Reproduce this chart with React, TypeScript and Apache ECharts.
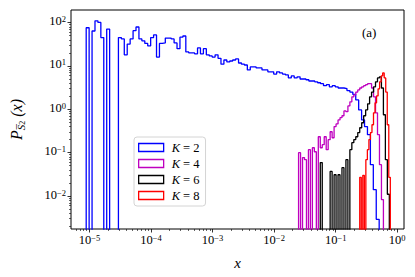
import React, { useEffect, useRef } from 'react';
import * as echarts from 'echarts';

// Histogram bin ranges (x, log-spaced bins) and densities
const blueRange = [8.85e-6, 0.509];
const blueValues = [
  76, 0, 64, 110, 101, 45, 0, 71, 0, 0,
  0, 45, 42, 18, 32, 42, 65, 79, 42, 38,
  33, 29, 45, 52, 16, 33, 34, 44, 44, 42,
  34, 25, 46, 49, 21, 20, 20, 19, 26, 19,
  25, 18, 17, 16, 18, 15, 11, 13.7, 12.4, 13,
  13.7, 14.5, 11.7, 11, 10.5, 8.1, 9.5, 9.5, 9.0, 9.0,
  8.1, 8.1, 7.3, 7.3, 6.5, 7.3, 6.9, 6.5, 6.2, 5.3,
  5.9, 5.3, 5.6, 5.0, 5.0, 4.8, 4.5, 4.5, 4.3, 4.1,
  3.9, 3.5, 3.7, 3.3, 3.5, 3.3, 3.1, 3.1, 3.0, 2.7,
  2.5, 2.2, 1.65, 0.97, 0.57, 0.40, 0.26, 0.053, 0.014, 0.0029,
];
const magentaRange = [0.02496, 0.5966];
const magentaValues = [
  0.10, 0, 0.077, 0.069, 0, 0.117, 0, 0.13, 0.105, 0,
  0.233, 0.13, 0.153, 0.233, 0.117, 0.199, 0.304, 0.221, 0.40, 0.46,
  0.57, 0.64, 0.71, 0.92, 0.88, 1.2, 1.49, 1.94, 2.15, 2.5,
  2.8, 3.1, 3.3, 3.5, 3.7, 3.9, 3.9, 3.1, 1.94, 0.83,
  0.26, 0.053, 0.0083,
];
const blackRange = [0.0562, 0.744];
const blackValues = [
  0.059, 0, 0, 0, 0, 0.037, 0, 0.031, 0, 0.031,
  0, 0.045, 0, 0.069, 0, 0.117, 0.17, 0.2, 0.233, 0.29,
  0.376, 0.49, 0.71, 0.97, 1.34, 1.94, 2.5, 3.3, 4.3, 5.3,
  5.6, 3.1, 0.75, 0.069, 0.011,
];
const redRange = [0.246, 0.772];
const redValues = [
  0.027, 0, 0.030, 0, 0.069, 0.117, 0.2, 0.29, 0.44, 0.83,
  1.41, 2.04, 2.96, 4.3, 5.9, 6.9, 5.3, 2.5, 0.44, 0.027,
];

const seriesNames = ['K = 2', 'K = 4', 'K = 6', 'K = 8'];
const seriesColors = ['#0000ff', '#bf00bf', '#000000', '#ff0000'];
const xTickExps = [-5, -4, -3, -2, -1, 0];
const yTickExps = [-2, -1, 0, 1, 2];

const X_MIN = -5.3;
const X_MAX = 0.11;
const Y_MIN = -2.76;
const Y_MAX = 2.29;
const FLOOR = -10;
const FONT = '"Liberation Serif", "DejaVu Serif", serif';

function stepData(range: number[], values: number[]) {
  const lo = Math.log10(range[0]);
  const hi = Math.log10(range[1]);
  const w = (hi - lo) / values.length;
  const pts: number[][] = [[lo, FLOOR]];
  values.forEach((v, i) => {
    const y = v > 0 ? Math.log10(v) : FLOOR;
    pts.push([lo + i * w, y], [lo + (i + 1) * w, y]);
  });
  pts.push([hi, FLOOR]);
  return pts;
}

function minorTicks(min: number, max: number) {
  const out: number[] = [];
  for (let n = Math.floor(min); n <= Math.ceil(max); n++) {
    for (let k = 2; k <= 9; k++) {
      const v = n + Math.log10(k);
      if (v >= min && v <= max) out.push(v);
    }
  }
  return out;
}

const supLabel = (v: number) => {
  const e = Math.round(v);
  return `{b|10}{s|${e < 0 ? '−' : ''}${Math.abs(e)}}`;
};

const labelRich = {
  b: { fontFamily: FONT, fontSize: 12.5, lineHeight: 16, color: '#000', verticalAlign: 'top' },
  s: { fontFamily: FONT, fontSize: 8.5, lineHeight: 7, color: '#000', verticalAlign: 'top' },
};

export default function App() {
  const ref = useRef<HTMLDivElement>(null);
  useEffect(() => {
    if (!ref.current) return;
    const chart = echarts.init(ref.current, undefined, { renderer: 'svg' });
    const all = [
      [blueRange, blueValues],
      [magentaRange, magentaValues],
      [blackRange, blackValues],
      [redRange, redValues],
    ] as [number[], number[]][];
    const series = all.map(([r, v], i) => ({
      name: seriesNames[i],
      type: 'line',
      data: stepData(r, v),
      showSymbol: false,
      symbol: 'none',
      clip: true,
      silent: true,
      color: seriesColors[i],
      itemStyle: { color: seriesColors[i] },
      lineStyle: { color: seriesColors[i], width: 1.3 },
      xAxisIndex: 0,
      yAxisIndex: 0,
    }));
    const xMinor = minorTicks(X_MIN, X_MAX);
    const yMinor = minorTicks(Y_MIN, Y_MAX);
    chart.setOption({
      animation: false,
      backgroundColor: '#fff',
      grid: {
        left: 66, right: 11, top: 10, bottom: 48,
        show: true, borderColor: '#000', borderWidth: 1, backgroundColor: 'transparent',
      },
      xAxis: [
        {
          type: 'value', min: X_MIN, max: X_MAX, position: 'bottom',
          name: '{i|x}', nameLocation: 'middle', nameGap: 26,
          nameTextStyle: { rich: { i: { fontFamily: FONT, fontStyle: 'italic', fontSize: 15, color: '#000' } } },
          axisLine: { show: false, onZero: false },
          splitLine: { show: false },
          axisTick: { show: true, customValues: xTickExps, length: 3.5, lineStyle: { color: '#000', width: 0.8 } },
          axisLabel: { customValues: xTickExps, formatter: supLabel, margin: 4, rich: labelRich },
        },
        {
          type: 'value', min: X_MIN, max: X_MAX, position: 'bottom',
          axisLine: { show: false, onZero: false }, splitLine: { show: false },
          axisLabel: { show: false },
          axisTick: { show: true, customValues: xMinor, length: 2, lineStyle: { color: '#000', width: 0.6 } },
        },
      ],
      yAxis: [
        {
          type: 'value', min: Y_MIN, max: Y_MAX, position: 'left',
          name: '{p|P}{s|S̅}{t|2}{p| (}{i|x}{p|)}', nameLocation: 'middle', nameGap: 45, nameRotate: 90,
          nameTextStyle: {
            rich: {
              p: { fontFamily: FONT, fontSize: 16, lineHeight: 20, color: '#000', fontStyle: 'italic' },
              i: { fontFamily: FONT, fontSize: 16, lineHeight: 20, color: '#000', fontStyle: 'italic' },
              s: { fontFamily: FONT, fontSize: 11, lineHeight: 12, color: '#000', fontStyle: 'italic', verticalAlign: 'bottom' },
              t: { fontFamily: FONT, fontSize: 8, lineHeight: 7, color: '#000', verticalAlign: 'bottom' },
            },
          },
          axisLine: { show: false, onZero: false },
          splitLine: { show: false },
          axisTick: { show: true, customValues: yTickExps, length: 3.5, lineStyle: { color: '#000', width: 0.8 } },
          axisLabel: { customValues: yTickExps, formatter: supLabel, margin: 5, rich: labelRich },
        },
        {
          type: 'value', min: Y_MIN, max: Y_MAX, position: 'left',
          axisLine: { show: false, onZero: false }, splitLine: { show: false },
          axisLabel: { show: false },
          axisTick: { show: true, customValues: yMinor, length: 2, lineStyle: { color: '#000', width: 0.6 } },
        },
      ],
      legend: {
        data: seriesNames.map((name, i) => ({
          name,
          itemStyle: { color: 'rgba(255,255,255,0)', borderColor: seriesColors[i], borderWidth: 1.3, opacity: 1 },
        })),
        orient: 'vertical',
        left: 134,
        top: 137,
        icon: 'rect',
        itemWidth: 25,
        itemHeight: 8,
        itemGap: 3,
        padding: [4, 6, 4, 4],
        backgroundColor: 'rgba(255,255,255,0.85)',
        borderColor: '#d4d4d4',
        borderWidth: 1,
        borderRadius: 3,
        formatter: (name: string) => `{i|K}{n| = ${name.slice(4)}}`,
        textStyle: {
          padding: [0, 0, 0, 3],
          rich: {
            i: { fontFamily: FONT, fontStyle: 'italic', fontSize: 12.5, lineHeight: 14, color: '#000' },
            n: { fontFamily: FONT, fontSize: 12.5, lineHeight: 14, color: '#000' },
          },
        },
      },
      graphic: [
        {
          type: 'text', left: 362, top: 26,
          style: { text: '(a)', font: `13px ${FONT}`, fill: '#000' },
        },
      ],
      series,
    });
    return () => chart.dispose();
  }, []);
  return <div ref={ref} style={{ position: 'fixed', left: 0, top: 0, width: 415, height: 277 }} />;
}
